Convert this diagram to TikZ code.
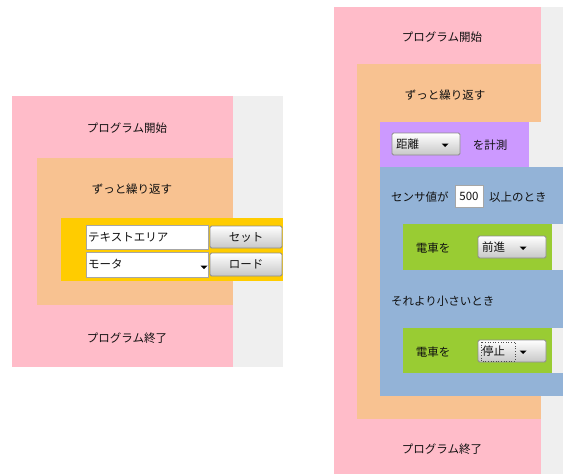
\documentclass[tikz,border=0pt]{standalone}
\usepackage{fontspec}
\setmainfont{Noto Sans CJK JP}
\definecolor{pinkc}{HTML}{FFBCC9}
\definecolor{orangec}{HTML}{F8C291}
\definecolor{yellowc}{HTML}{FFCC00}
\definecolor{purplec}{HTML}{CC99FF}
\definecolor{bluec}{HTML}{93B3D7}
\definecolor{greenc}{HTML}{99CC33}
\definecolor{bggray}{HTML}{EFEFEF}
\definecolor{txt}{HTML}{111111}
\tikzset{
  lbl/.style={font=\fontsize{11.5}{13}\selectfont, text=txt, inner sep=0pt},
  field/.style={fill=white, draw=black!35, line width=0.8pt},
  btn/.style={top color=white, bottom color=black!22, draw=black!45, line width=0.8pt, rounded corners=1.5pt},
  pics/ddarrow/.style={code={\fill[black] (-3.5,-1.5) -- (3.5,-1.5) -- (0,2) -- cycle;}}
}
\begin{document}
\begin{tikzpicture}[x=1pt,y=-1pt]
\useasboundingbox (0,0) rectangle (563,474);
\fill[white] (0,0) rectangle (563,474);
% ---------- left panel ----------
\fill[bggray] (233,96) rectangle (283,367);
\fill[pinkc] (12,96) rectangle (233,367);
\fill[orangec] (37,158) rectangle (233,305);
\fill[yellowc] (61,218) rectangle (283,281);
\node[lbl] (lstart) at (127,128) {プログラム開始};
\node[lbl] (lloop) at (132,189) {ずっと繰り返す};
\node[lbl] (lend) at (127,338) {プログラム終了};
\draw[field] (86,225) rectangle (208,249);
\node[lbl, anchor=west] (tarea) at (88,237) {テキストエリア};
\draw[field] (86,252) rectangle (208,277);
\node[lbl, anchor=west] (motor) at (88,264) {モータ};
\pic at (204,267) {ddarrow};
\draw[btn] (210,226) rectangle (282,248);
\node[lbl] (setb) at (246,237) {セット};
\draw[btn] (210,253) rectangle (282,276);
\node[lbl] (loadb) at (246,264) {ロード};
% ---------- right panel ----------
\fill[bggray] (541,7) rectangle (563,474);
\fill[pinkc] (334,7) rectangle (541,474);
\fill[orangec] (357,64) rectangle (541,419);
\fill[bggray] (529,122) rectangle (563,167);
\fill[purplec] (380,122) rectangle (529,167);
\fill[bluec] (380,167) rectangle (563,396);
\fill[bggray] (552,224) rectangle (563,270);
\fill[bggray] (552,328) rectangle (563,373);
\fill[greenc] (403,224) rectangle (552,270);
\fill[greenc] (403,328) rectangle (552,373);
\node[lbl] (rstart) at (442,37) {プログラム開始};
\node[lbl] (rloop) at (445,95) {ずっと繰り返す};
\node[lbl] (rend) at (442,449) {プログラム終了};
% measure
\draw[btn] (392,133) rectangle (460,155);
\node[lbl, anchor=west] (dist) at (396,144) {距離};
\pic at (445,145) {ddarrow};
\node[lbl] (meas) at (490,145) {を計測};
% condition
\node[lbl, anchor=west] (sens) at (391,197) {センサ値が};
\draw[field] (455,185) rectangle (483,207);
\node[lbl] (val) at (469,196) {500};
\node[lbl, anchor=west] (above) at (489,197) {以上のとき};
% train forward
\node[lbl] (tr1) at (433,248) {電車を};
\draw[btn] (478,236) rectangle (546,258);
\node[lbl, anchor=west] (fwd) at (482,247) {前進};
\pic at (523,248) {ddarrow};
% else
\node[lbl, anchor=west] (less) at (391,301) {それより小さいとき};
% train stop
\node[lbl] (tr2) at (433,352) {電車を};
\draw[btn] (478,340) rectangle (546,362);
\draw[dotted, black!70, line width=0.6pt] (481,342) rectangle (515,361);
\node[lbl, anchor=west] (stop) at (482,351) {停止};
\pic at (523,352) {ddarrow};
\end{tikzpicture}
\end{document}
